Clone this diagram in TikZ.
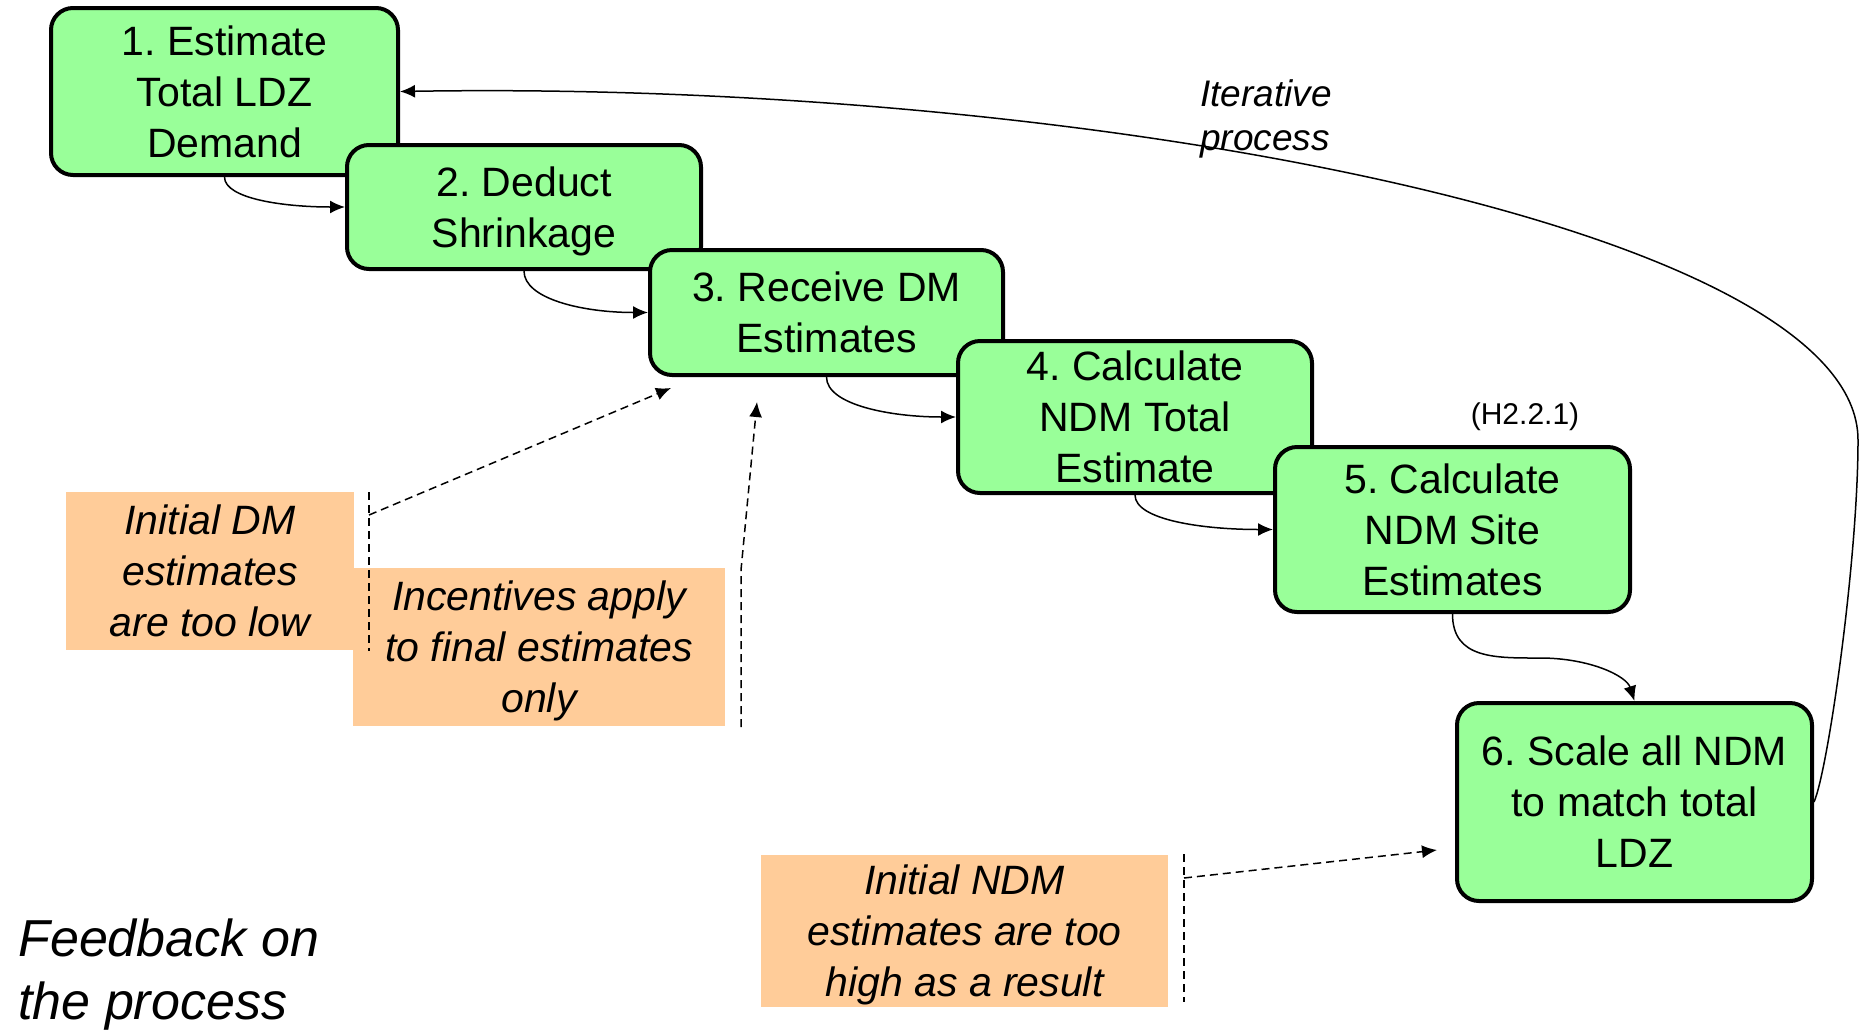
\documentclass[tikz,border=0pt]{standalone}
\usepackage{fontspec}
\setmainfont{Liberation Sans}
\usetikzlibrary{arrows.meta}
\definecolor{stepgreen}{RGB}{153,255,153}
\definecolor{noteorange}{RGB}{255,204,153}
\frenchspacing
\begin{document}
\begin{tikzpicture}[x=0.5pt,y=-0.5pt,
 stepbox/.style={draw=black, line width=2pt, fill=stepgreen, rounded corners=11pt, align=center, inner sep=0pt, text depth=0pt, font=\fontsize{20.5}{25.5}\selectfont},
 notebox/.style={fill=noteorange, align=center, inner sep=0pt, text depth=0pt, font=\fontsize{20.5}{25.5}\selectfont\itshape},
 flow/.style={line width=0.75pt, -{Latex[length=7.5pt,width=6.5pt]}},
 hint/.style={line width=0.75pt, dash pattern=on 4pt off 2.5pt},
 hintarrow/.style={hint, -{Latex[length=7.5pt,width=6.5pt]}},
]
\useasboundingbox (0,0) rectangle (1862,1029);

% notes
\node[notebox, minimum width=144pt, minimum height=79pt] (n1) at (210,571) {Initial DM\\estimates\\are too low};
\node[notebox, minimum width=186pt, minimum height=79pt] (n2) at (539,647) {Incentives apply\\to final estimates\\only};
\node[notebox, minimum width=203.5pt, minimum height=76pt] (n3) at (964.5,931) {Initial NDM\\estimates are too\\high as a result};

% steps
\node[stepbox, minimum width=173.5pt, minimum height=83.5pt] (b1) at (224.5,91.5) {1. Estimate\\Total LDZ\\Demand};
\node[stepbox, minimum width=177pt, minimum height=62pt] (b2) at (524,207) {2. Deduct\\Shrinkage};
\node[stepbox, minimum width=176.5pt, minimum height=62.5pt] (b3) at (826.5,312.5) {3. Receive DM\\Estimates};
\node[stepbox, minimum width=177pt, minimum height=76pt] (b4) at (1135,417) {4. Calculate\\NDM Total\\Estimate};
\node[stepbox, minimum width=177.5pt, minimum height=82.5pt] (b5) at (1452.5,529.5) {5. Calculate\\NDM Site\\Estimates};
\node[stepbox, minimum width=177.5pt, minimum height=99pt] (b6) at (1634.5,802) {6. Scale all NDM\\to match total\\LDZ};

% texts
\node[font=\fontsize{18.5}{22}\selectfont\itshape, align=left, inner sep=0pt, anchor=north west] (iter) at (1200,79) {Iterative\\process};
\node[font=\fontsize{15}{18}\selectfont, inner sep=0pt] (ref) at (1525,417) {(H2.2.1)};
\node[font=\fontsize{26}{31.5}\selectfont\itshape, align=left, inner sep=0pt, anchor=north west] (fb) at (18,918) {Feedback on\\the process};

% flow connectors
\draw[flow] (b1.south) .. controls +(0,22) and +(-60,0) .. (b2.west);
\draw[flow] (b2.south) .. controls +(0,28) and +(-65,0) .. (b3.west);
\draw[flow] (b3.south) .. controls +(0,28) and +(-65,0) .. (b4.west);
\draw[flow] (b4.south) .. controls +(0,25) and +(-70,0) .. (b5.west);
\draw[flow] (b5.south) .. controls +(0,45) and +(-45,0) .. (1540,658) .. controls +(50,0) and +(-8,-25) .. (b6.north);
\draw[flow] (b6.east) .. controls (1828,770) and (1858,560) .. (1858,440) .. controls (1858,230) and (1100,80) .. (b1.east);

% dashed hints
\coordinate (d1top) at (369,492);
\coordinate (d1bot) at (369,651);
\coordinate (d1from) at (369,515);
\coordinate (d1to) at (671,388);
\draw[hint] (d1top) -- (d1bot);
\draw[hintarrow] (d1from) -- (d1to);

\coordinate (d2bot) at (741,727);
\coordinate (d2bend) at (741,570);
\coordinate (d2to) at (757,402);
\draw[hintarrow] (d2bot) -- (d2bend) -- (d2to);

\coordinate (d3top) at (1184,854);
\coordinate (d3bot) at (1184,1002);
\coordinate (d3from) at (1184,878);
\coordinate (d3to) at (1437,850);
\draw[hint] (d3top) -- (d3bot);
\draw[hintarrow] (d3from) -- (d3to);
\end{tikzpicture}
\end{document}
